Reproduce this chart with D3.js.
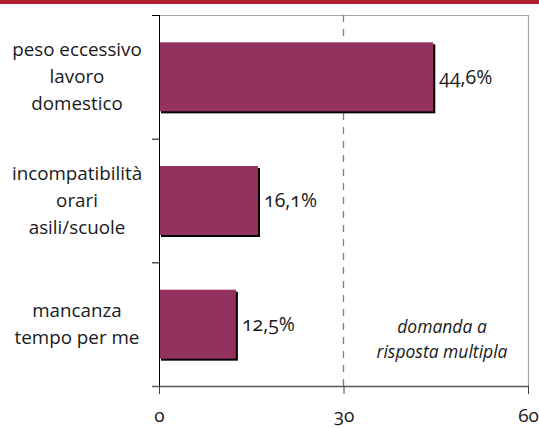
<!DOCTYPE html>
<html>
<head>
<meta charset="utf-8">
<script src="https://cdn.jsdelivr.net/npm/d3@7"></script>
<style>
  body { margin: 0; background: #fff; }
  svg text { font-family: "Open Sans", Lato, sans-serif; font-variant-numeric: oldstyle-nums; font-feature-settings: "onum" 1; font-variant-ligatures: none; fill: #1a1a1a; }
</style>
</head>
<body>
<svg id="chart" width="539" height="428"></svg>
<script>
// data
const categories = ["peso eccessivo lavoro domestico", "incompatibilità orari asili/scuole", "mancanza tempo per me"]
const labelLines = [["peso eccessivo", "lavoro", "domestico"], ["incompatibilità", "orari", "asili/scuole"], ["mancanza", "tempo per me"]]
const values = [44.6, 16.1, 12.5]
const valueLabels = ["44,6%", "16,1%", "12,5%"]
const xTicks = [0, 30, 60]
const note = ["domanda a", "risposta multipla"]

const width = 539, height = 428
const plotLeft = 159, plotRight = 528, plotTop = 15, plotBottom = 386

const svg = d3.select("#chart")

// red band on top
svg.append("rect").attr("x", 0).attr("y", 0).attr("width", width).attr("height", 4).attr("fill", "#b01f2b")

const x = d3.scaleLinear().domain([0, 60]).range([plotLeft, plotRight])
const y = d3.scaleBand().domain(categories).range([plotTop, plotBottom])
const barH = 69

// frame top + right
svg.append("path")
  .attr("d", "M" + plotLeft + "," + (plotTop + 0.5) + "H" + (plotRight + 0.5) + "V" + plotBottom)
  .attr("fill", "none").attr("stroke", "#a6a6a6").attr("stroke-width", 1.2)

// dashed gridline at 30
svg.append("line")
  .attr("x1", x(30)).attr("x2", x(30)).attr("y1", plotTop).attr("y2", plotBottom)
  .attr("stroke", "#7f7f7f").attr("stroke-width", 1.3).attr("stroke-dasharray", "7,7")

// bars with shadow
const bars = svg.selectAll(".bar").data(values).enter().append("g").attr("class", "bar")
bars.append("rect")
  .attr("x", x(0) + 2)
  .attr("y", (d, i) => y(categories[i]) + (y.bandwidth() - barH) / 2 + 2)
  .attr("width", d => x(d) - x(0))
  .attr("height", barH)
  .attr("fill", "#000")
bars.append("rect")
  .attr("x", x(0))
  .attr("y", (d, i) => y(categories[i]) + (y.bandwidth() - barH) / 2)
  .attr("width", d => x(d) - x(0))
  .attr("height", barH)
  .attr("fill", "#94325f")

// value labels
bars.append("text")
  .attr("x", d => x(d) + 6)
  .attr("y", (d, i) => y(categories[i]) + y.bandwidth() / 2)
  .attr("dy", "0.35em")
  .attr("font-size", 19.5)
  .text((d, i) => valueLabels[i])

// left axis
svg.append("line").attr("x1", plotLeft + 0.5).attr("x2", plotLeft + 0.5).attr("y1", plotTop).attr("y2", plotBottom)
  .attr("stroke", "#000").attr("stroke-width", 1)
const yTickPos = categories.map(c => y(c)).concat([plotBottom])
svg.selectAll(".ytick").data(yTickPos).enter().append("line")
  .attr("x1", plotLeft - 7).attr("x2", plotLeft).attr("y1", d => d + 0.5).attr("y2", d => d + 0.5)
  .attr("stroke", "#000")

// category labels
svg.selectAll(".cat").data(categories).enter().append("text")
  .attr("class", "cat")
  .attr("text-anchor", "middle")
  .attr("font-size", 18.8)
  .each(function (c, i) {
    const lines = labelLines[i]
    const cy = y(c) + y.bandwidth() / 2
    const lh = 27
    d3.select(this).selectAll("tspan").data(lines).enter().append("tspan")
      .attr("x", 77)
      .attr("y", (l, j) => cy + (j - (lines.length - 1) / 2) * lh)
      .attr("dy", "0.35em")
      .text(l => l)
  })

// bottom axis
svg.append("line").attr("x1", plotLeft - 7).attr("x2", plotRight + 1).attr("y1", plotBottom + 0.5).attr("y2", plotBottom + 0.5)
  .attr("stroke", "#595959").attr("stroke-width", 1.5)
const xAxis = svg.append("g").attr("transform", "translate(0," + plotBottom + ")")
  .call(d3.axisBottom(x).tickValues(xTicks).tickSize(8).tickFormat(d3.format("d")))
xAxis.select(".domain").remove()
xAxis.selectAll(".tick line").attr("stroke", "#404040")
xAxis.selectAll(".tick text").attr("y", 36).attr("dy", 0).attr("font-size", 19)
  .attr("font-family", "'Open Sans', Lato, sans-serif").attr("fill", "#1a1a1a")

// note
svg.append("text")
  .attr("text-anchor", "middle").attr("font-size", 17.5).attr("font-style", "italic")
  .selectAll("tspan").data(note).enter().append("tspan")
  .attr("x", 442).attr("y", (d, i) => 327 + i * 25).attr("dy", "0.35em")
  .text(d => d)
</script>
</body>
</html>
